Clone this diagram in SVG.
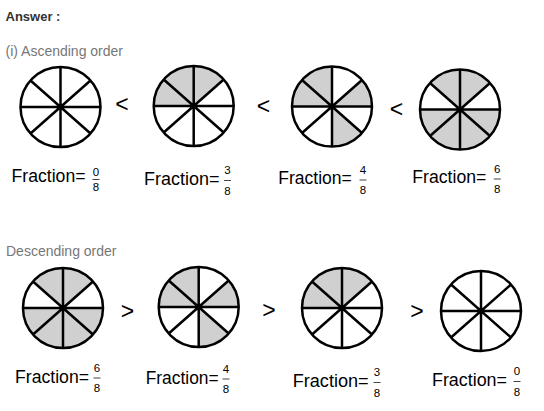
<svg xmlns="http://www.w3.org/2000/svg" xmlns:xlink="http://www.w3.org/1999/xlink" width="544" height="411" viewBox="0 0 544 411">
<style>
.bg{fill:#ffffff}
.sh{fill:#d0d0d0;stroke:none}
.rim{fill:none;stroke:#000;stroke-width:2.5}
.sp{fill:none;stroke:#000;stroke-width:2.5}
.head{font-family:"Liberation Sans",Arial,sans-serif;font-size:13px;font-weight:bold;fill:#333}
.sub{font-family:"Liberation Sans",Arial,sans-serif;font-size:14px;fill:#777}
.fr{font-family:"Liberation Sans",Arial,sans-serif;font-size:17.5px;fill:#000}
.dg{font-family:"Liberation Sans",Arial,sans-serif;font-size:11.5px;fill:#000;text-anchor:middle}
.bar{stroke:#444;stroke-width:1}
.cmp{font-family:"Liberation Sans",Arial,sans-serif;font-size:23px;fill:#000;text-anchor:middle}
</style>
<defs>
<path id="sA" class="sh" d="M0,0 L0,-40 A40,40 0 0 1 30,-26.5 Z"/>
<path id="sB" class="sh" d="M0,0 L30,-26.5 A40,40 0 0 1 40,0 Z"/>
<path id="sC" class="sh" d="M0,0 L40,0 A40,40 0 0 1 30,26.5 Z"/>
<path id="sD" class="sh" d="M0,0 L30,26.5 A40,40 0 0 1 0,40 Z"/>
<path id="sE" class="sh" d="M0,0 L0,40 A40,40 0 0 1 -30,26.5 Z"/>
<path id="sF" class="sh" d="M0,0 L-30,26.5 A40,40 0 0 1 -40,0 Z"/>
<path id="sG" class="sh" d="M0,0 L-40,0 A40,40 0 0 1 -30,-26.5 Z"/>
<path id="sH" class="sh" d="M0,0 L-30,-26.5 A40,40 0 0 1 0,-40 Z"/>
<g id="wheel">
<path class="sp" d="M0,-40 V40 M-40,0 H40 M-30,-26.5 L30,26.5 M30,-26.5 L-30,26.5"/>
<circle class="rim" cx="0" cy="0" r="40"/>
</g>
</defs>
<rect class="bg" x="0" y="0" width="544" height="411"/>

<text class="head" x="5.5" y="21">Answer :</text>
<text class="sub" x="5.5" y="56">(i) Ascending order</text>
<text class="sub" x="6" y="256">Descending order</text>

<!-- Ascending row -->
<g id="asc1" transform="translate(60.5,107)">
<use xlink:href="#wheel"/>
</g>
<g id="asc2" transform="translate(193.7,106)">
<use xlink:href="#sH"/><use xlink:href="#sA"/><use xlink:href="#sG"/>
<use xlink:href="#wheel"/>
</g>
<g id="asc3" transform="translate(332,106.5)">
<use xlink:href="#sH"/><use xlink:href="#sG"/><use xlink:href="#sB"/><use xlink:href="#sD"/>
<use xlink:href="#wheel"/>
</g>
<g id="asc4" transform="translate(460,109.5)">
<use xlink:href="#sH"/><use xlink:href="#sA"/><use xlink:href="#sC"/><use xlink:href="#sD"/><use xlink:href="#sE"/><use xlink:href="#sF"/>
<use xlink:href="#wheel"/>
</g>

<g id="asc-signs">
<text class="cmp" x="122" y="112">&lt;</text>
<text class="cmp" x="263.5" y="114">&lt;</text>
<text class="cmp" x="396.5" y="117">&lt;</text>
</g>

<g id="asc-labels">
<text class="fr" x="11.5" y="181.5" textLength="74" lengthAdjust="spacingAndGlyphs">Fraction=</text>
<text class="dg" x="96" y="176">0</text><line class="bar" x1="92.5" y1="179.5" x2="99.5" y2="179.5"/><text class="dg" x="96" y="191">8</text>

<text class="fr" x="144" y="185" textLength="75.5" lengthAdjust="spacingAndGlyphs">Fraction=</text>
<text class="dg" x="227.5" y="174">3</text><line class="bar" x1="224" y1="180.5" x2="231" y2="180.5"/><text class="dg" x="227.5" y="194.5">8</text>

<text class="fr" x="278.3" y="184.3" textLength="73.5" lengthAdjust="spacingAndGlyphs">Fraction=</text>
<text class="dg" x="363" y="174.3">4</text><line class="bar" x1="359.5" y1="180" x2="366.5" y2="180"/><text class="dg" x="363" y="193.5">8</text>

<text class="fr" x="412.3" y="183.3" textLength="74" lengthAdjust="spacingAndGlyphs">Fraction=</text>
<text class="dg" x="497.3" y="172.7">6</text><line class="bar" x1="493.8" y1="179" x2="500.8" y2="179"/><text class="dg" x="497.3" y="192.7">8</text>
</g>

<!-- Descending row -->
<g id="desc1" transform="translate(63,308)">
<use xlink:href="#sH"/><use xlink:href="#sA"/><use xlink:href="#sC"/><use xlink:href="#sD"/><use xlink:href="#sE"/><use xlink:href="#sF"/>
<use xlink:href="#wheel"/>
</g>
<g id="desc2" transform="translate(198.7,307)">
<use xlink:href="#sH"/><use xlink:href="#sG"/><use xlink:href="#sB"/><use xlink:href="#sD"/>
<use xlink:href="#wheel"/>
</g>
<g id="desc3" transform="translate(342,308)">
<use xlink:href="#sH"/><use xlink:href="#sA"/><use xlink:href="#sG"/>
<use xlink:href="#wheel"/>
</g>
<g id="desc4" transform="translate(481,311)">
<use xlink:href="#wheel"/>
</g>

<g id="desc-signs">
<text class="cmp" x="127.5" y="318.5">&gt;</text>
<text class="cmp" x="269" y="318">&gt;</text>
<text class="cmp" x="417" y="319">&gt;</text>
</g>

<g id="desc-labels">
<text class="fr" x="15" y="383.3" textLength="74" lengthAdjust="spacingAndGlyphs">Fraction=</text>
<text class="dg" x="97" y="372">6</text><line class="bar" x1="93.5" y1="378" x2="100.5" y2="378"/><text class="dg" x="97" y="392">8</text>

<text class="fr" x="145.7" y="384" textLength="73" lengthAdjust="spacingAndGlyphs">Fraction=</text>
<text class="dg" x="226" y="373.3">4</text><line class="bar" x1="222.5" y1="379" x2="229.5" y2="379"/><text class="dg" x="226" y="393.3">8</text>

<text class="fr" x="292.7" y="386.7" textLength="76" lengthAdjust="spacingAndGlyphs">Fraction=</text>
<text class="dg" x="377" y="375.7">3</text><line class="bar" x1="373.5" y1="382.5" x2="380.5" y2="382.5"/><text class="dg" x="377" y="396.7">8</text>

<text class="fr" x="432" y="385.7" textLength="75" lengthAdjust="spacingAndGlyphs">Fraction=</text>
<text class="dg" x="517" y="375">0</text><line class="bar" x1="513.5" y1="381.5" x2="520.5" y2="381.5"/><text class="dg" x="517" y="395.7">8</text>
</g>
</svg>
